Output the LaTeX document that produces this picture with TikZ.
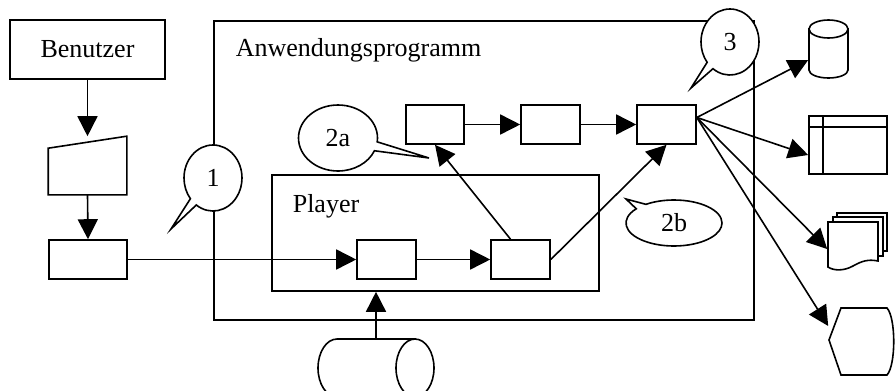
\documentclass[tikz,border=0pt]{standalone}
\usepackage{fontspec}
\setmainfont{Liberation Serif}
\usetikzlibrary{arrows.meta,calc,shapes.callouts}
\begin{document}
\begin{tikzpicture}[x=1pt,y=-1pt, line width=1.6pt, line join=miter,
  txt/.style={font=\fontsize{26}{30}\selectfont},
  box/.style={draw, fill=white, inner sep=0pt},
  anchorbox/.style={inner sep=0pt},
  arr/.style={-{Triangle[length=20pt,width=20pt]}},
  bubble/.style={ellipse callout, draw, fill=white, inner sep=0pt, txt, callout pointer arc=16}]
\useasboundingbox (0,0) rectangle (895,391);
\clip (0,0) rectangle (895,391);
\fill[white] (0,0) rectangle (895,391);

% application frame with the player inside
\node[box, minimum width=540pt, minimum height=299pt] (app) at (484,170.5) {};
\node[txt, anchor=base west, inner sep=0pt] (apptitle) at (235,56) {Anwendungsprogramm};
\node[box, minimum width=327pt, minimum height=116pt] (player) at (435.5,233) {};
\node[txt, anchor=base west, inner sep=0pt] (playertitle) at (292,212) {Player};

% user, manual input and input step
\node[box, txt, minimum width=155pt, minimum height=59pt] (user) at (87.5,49.5) {Benutzer};
\node[anchorbox, minimum width=77pt, minimum height=57pt] (manin) at (87.5,165.5) {};
\draw[fill=white] ($(manin.north west)+(0,12)$) -- (manin.north east) -- (manin.south east) -- (manin.south west) -- cycle;
\node[box, minimum width=78pt, minimum height=39pt] (inbox) at (88,259.5) {};

% processing steps
\node[box, minimum width=59pt, minimum height=39pt] (p1) at (386.5,259.5) {};
\node[box, minimum width=59pt, minimum height=39pt] (p2) at (520.5,259.5) {};
\node[box, minimum width=58pt, minimum height=39pt] (a) at (435,124.5) {};
\node[box, minimum width=59pt, minimum height=39pt] (b) at (550.5,124.5) {};
\node[box, minimum width=59pt, minimum height=39pt] (c) at (666.5,124.5) {};

% tape storage below
\node[anchorbox, minimum width=116pt, minimum height=58pt] (tape) at (376,368) {};
\draw[fill=white] (337,339) -- (415,339) -- (415,397) -- (337,397)
  arc[start angle=270, end angle=90, x radius=19pt, y radius=29pt] -- cycle;
\draw[fill=white] (415,368) ellipse[x radius=19pt, y radius=29pt];

% database
\node[anchorbox, minimum width=39pt, minimum height=58pt] (db) at (828.5,49) {};
\draw[fill=white] (809,29) -- (809,70) arc[start angle=180, end angle=360, x radius=19.5pt, y radius=8pt] -- (848,29) -- cycle;
\draw[fill=white] (828.5,29) ellipse[x radius=19.5pt, y radius=9pt];

% internal storage
\node[box, minimum width=78pt, minimum height=58pt] (tbl) at (848,145) {};
\draw ($(tbl.north west)+(15,0)$) -- ($(tbl.south west)+(15,0)$);
\draw ($(tbl.north west)+(0,12)$) -- ($(tbl.north east)+(0,12)$);

% multiple documents
\draw[fill=white] (837,213) rectangle (887,251);
\draw[fill=white] (833,217) rectangle (883,256);
\draw[fill=white] (828,222) -- (878,222) -- (878,261) .. controls (868,259) and (862,261) .. (853,266)
  .. controls (844,271) and (834,271) .. (828,267) -- cycle;
\node[anchorbox, minimum width=50pt, minimum height=46pt] (docs) at (853,249) {};

% display
\node[anchorbox, minimum width=66pt, minimum height=67pt] (disp) at (862,341) {};
\draw[fill=white] (829,340) -- (841,308) -- (887,308) .. controls (896,318) and (896,365) .. (887,375) -- (841,375) -- cycle;

% connectors
\draw[arr] (user.south) -- (manin.north);
\draw[arr] (manin.south) -- (inbox.north);
\draw[arr] (inbox.east) -- (p1.west);
\draw[arr] (p1.east) -- (p2.west);
\draw[arr] (tape.north) -- (tape.north |- player.south);
\draw[arr] ($(p2.north)+(-10,0)$) -- (a.south);
\draw[arr] (p2.east) -- (c.south);
\draw[arr] (a.east) -- (b.west);
\draw[arr] (b.east) -- (c.west);
\coordinate (cout) at ($(c.east)+(0,-7)$);
\draw[arr] (cout) -- ($(db.west)+(0,11)$);
\draw[arr] (cout) -- ($(tbl.west)+(0,10)$);
\draw[arr] (cout) -- (docs.west);
\draw[arr] (cout) -- ($(disp.west)+(0,-15)$);

% callouts
\node[bubble, minimum width=58pt, minimum height=66pt, callout absolute pointer={(171,229)}] (call1) at (213,178) {1};
\node[bubble, minimum width=79pt, minimum height=66pt, callout absolute pointer={(429,158)}] (call2a) at (338,138) {2a};
\node[bubble, minimum width=96pt, minimum height=46pt, callout absolute pointer={(626,199)}] (call2b) at (674,223) {2b};
\node[bubble, minimum width=58pt, minimum height=66pt, callout absolute pointer={(691,88)}] (call3) at (730,42) {3};
\end{tikzpicture}
\end{document}
